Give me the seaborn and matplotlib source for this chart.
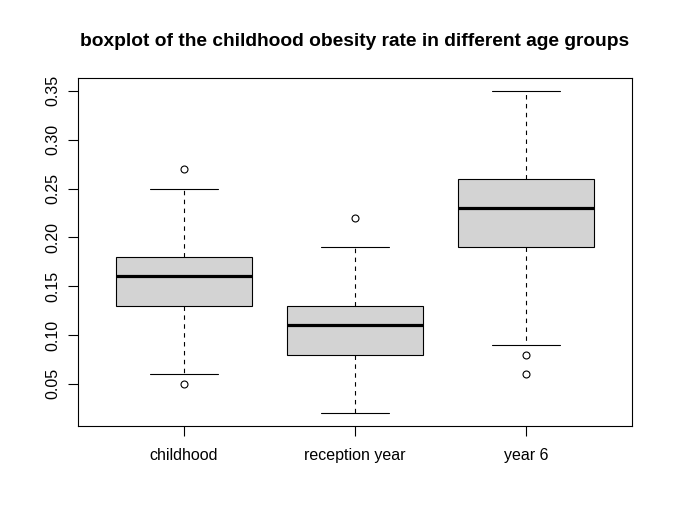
import seaborn as sns
import matplotlib.pyplot as plt
import pandas as pd

# values (quartiles, whisker ends and outliers)
childhood = [0.05, 0.06, 0.13, 0.15, 0.16, 0.17, 0.18, 0.25, 0.27]
reception = [0.02, 0.05, 0.08, 0.10, 0.11, 0.12, 0.13, 0.19, 0.22]
year6 = [0.06, 0.08, 0.09, 0.19, 0.20, 0.22, 0.23, 0.24, 0.25, 0.26, 0.30, 0.33, 0.35]
groups = ['childhood', 'reception year', 'year 6']
y_ticks = [0.05, 0.10, 0.15, 0.20, 0.25, 0.30, 0.35]

df = pd.DataFrame({
    'group': [groups[0]] * len(childhood) + [groups[1]] * len(reception) + [groups[2]] * len(year6),
    'rate': childhood + reception + year6,
})

sns.set_style('ticks')
plt.rcParams['font.family'] = ['Liberation Sans', 'DejaVu Sans']
plt.rcParams['text.color'] = 'black'

fig = plt.figure(figsize=(6.73, 5.24), dpi=100)
ax = fig.add_axes([78 / 673, 1 - 426 / 524, (632 - 78) / 673, (426 - 78) / 524])

lw = 0.8
sns.boxplot(data=df, x='group', y='rate', order=groups, ax=ax, width=0.8,
            color='#d3d3d3', saturation=1, linecolor='black', linewidth=lw,
            whis=1.5, capwidths=0.4,
            boxprops=dict(edgecolor='black', linewidth=lw),
            medianprops=dict(color='black', linewidth=2.3),
            whiskerprops=dict(color='black', linewidth=lw, linestyle=(0, (4, 4))),
            capprops=dict(color='black', linewidth=lw),
            flierprops=dict(marker='o', markersize=5, markerfacecolor='none',
                            markeredgecolor='black', markeredgewidth=lw))

ax.set_xlim(-0.62, 2.62)
ax.set_ylim(0.0068, 0.3632)
ax.set_yticks(y_ticks)
ax.set_yticklabels(['%.2f' % v for v in y_ticks], rotation=90, va='center')
ax.set_xlabel('')
ax.set_ylabel('')
ax.tick_params(axis='both', length=7, width=lw, color='black', labelsize=11.5,
               labelcolor='black')
ax.tick_params(axis='x', pad=9)
ax.tick_params(axis='y', pad=6)
for s in ax.spines.values():
    s.set_visible(True)
    s.set_color('black')
    s.set_linewidth(lw)

fig.text((78 + 632) / 2 / 673, 1 - 46 / 524,
         'boxplot of the childhood obesity rate in different age groups',
         ha='center', va='baseline', fontsize=13.8, fontweight='bold', color='black')

fig.savefig('out.png', dpi=100, facecolor='white')
